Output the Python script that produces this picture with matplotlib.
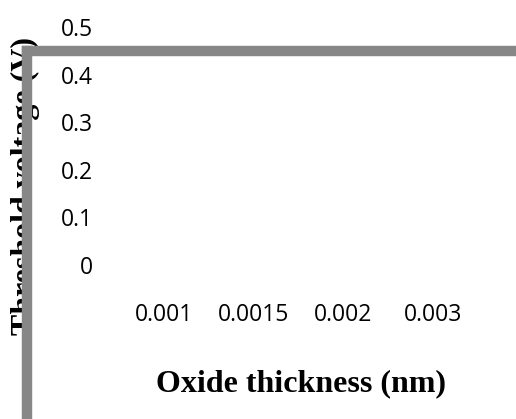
import matplotlib.pyplot as plt

# categories on the x axis and y ticks (chart shows no plotted values)
categories = ["0.001", "0.0015", "0.002", "0.003"]
y_ticks = [0, 0.1, 0.2, 0.3, 0.4, 0.5]
y_tick_labels = ["0", "0.1", "0.2", "0.3", "0.4", "0.5"]

W, H = 516, 419
fig = plt.figure(figsize=(W / 100, H / 100), dpi=100)

# main axes: only tick labels visible
ax = fig.add_axes([119 / W, 1 - 265 / H, (478 - 119) / W, (265 - 27) / H])
ax.set_xlim(-0.5, len(categories) - 0.5)
ax.set_ylim(0, 0.5)
ax.set_xticks(range(len(categories)))
ax.set_xticklabels(categories)
ax.set_yticks(y_ticks)
ax.set_yticklabels(y_tick_labels)
for s in ax.spines.values():
    s.set_visible(False)
ax.tick_params(length=0, labelsize=16.5, labelcolor="black")
ax.tick_params(axis="y", pad=18.5)
ax.tick_params(axis="x", pad=27)
for lab in ax.get_xticklabels() + ax.get_yticklabels():
    lab.set_fontfamily("Open Sans")

# axis titles
fig.text(301 / W, 1 - 384 / H, "Oxide thickness (nm)", ha="center", va="center",
         fontsize=23, fontweight="bold", family="Liberation Serif")
fig.text(25 / W, 1 - 186 / H, "Threshold voltage (V)", ha="center", va="center",
         rotation=90, fontsize=23, fontweight="bold", family="Liberation Serif")

# grey frame lines (left + top) drawn over the y title
frame = fig.add_axes([26.5 / W, -0.2, 1.2, 1.2 - 51 / H])
frame.set_zorder(10)
frame.patch.set_visible(False)
frame.set_xticks([])
frame.set_yticks([])
for name in ["right", "bottom"]:
    frame.spines[name].set_visible(False)
for name in ["left", "top"]:
    frame.spines[name].set_linewidth(7.5)
    frame.spines[name].set_color("#878787")
    frame.spines[name].set_capstyle("projecting")

fig.savefig("out.png", dpi=100)
